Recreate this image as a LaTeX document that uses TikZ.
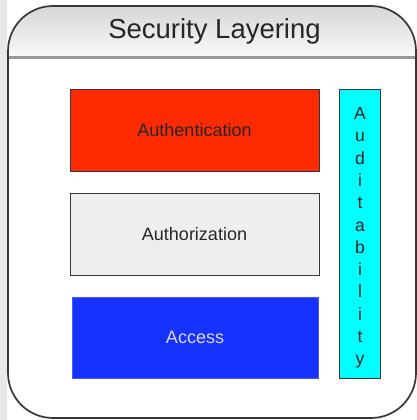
\documentclass[tikz,border=0pt]{standalone}
\usepackage{fontspec}
\setmainfont{Liberation Sans}
\definecolor{authred}{RGB}{255,42,0}
\definecolor{authzgray}{RGB}{238,238,238}
\definecolor{accblue}{RGB}{22,50,255}
\definecolor{acctext}{RGB}{215,215,255}
\definecolor{auditcyan}{RGB}{0,255,255}
\definecolor{framegray}{RGB}{55,55,55}
\definecolor{bgstrip}{RGB}{232,232,232}
\begin{document}
\begin{tikzpicture}[x=1pt,y=-1pt]
\tikzset{
  layerbox/.style={draw=framegray, line width=1pt, minimum width=249pt, minimum height=82pt, inner sep=0pt, font=\fontsize{18}{21}\selectfont},
  auditbox/.style={draw=framegray, line width=1pt, fill=auditcyan, minimum width=41pt, minimum height=289pt, inner sep=0pt},
  audittext/.style={inner sep=0pt, align=center, text=black!85, font=\fontsize{17.5}{22.3}\selectfont},
  titletext/.style={font=\fontsize{27.5}{30}\selectfont, text=black!85, anchor=base, inner sep=0pt}
}
\useasboundingbox (0,0) rectangle (417,420);
\fill[white] (0,0) rectangle (417,420);
\fill[bgstrip] (0,0) rectangle (7,420);
% frame
\begin{scope}
  \clip[rounded corners=45pt] (8,418) -- (8,6) -- (416,6) -- (416,418) -- cycle;
  \shade[top color=gray!32, bottom color=gray!4] (8,6) rectangle (416,58);
\end{scope}
\draw[gray!80, line width=3pt] (8,58) -- (416,58);
\draw[framegray, line width=1.7pt, rounded corners=45pt] (8,418) -- (8,6) -- (416,6) -- (416,418) -- cycle;
\node[titletext] (title) at (214.5,39) {Security Layering};
% layers
\node[layerbox, fill=authred, text=black!85] (auth) at (194.5,130.5) {Authentication};
\node[layerbox, fill=authzgray, text=black!85] (authz) at (194.5,234.5) {Authorization};
\node[layerbox, fill=accblue, draw=accblue!80!white, line width=0.6pt, minimum width=246pt, minimum height=81pt, text=acctext] (access) at (195,337.5) {Access};
\node[auditbox] (audit) at (360,234) {};
\node[audittext] (audittxt) at (360,238) {A\\u\\d\\i\\t\\a\\b\\i\\l\\i\\t\\y};
\end{tikzpicture}
\end{document}
